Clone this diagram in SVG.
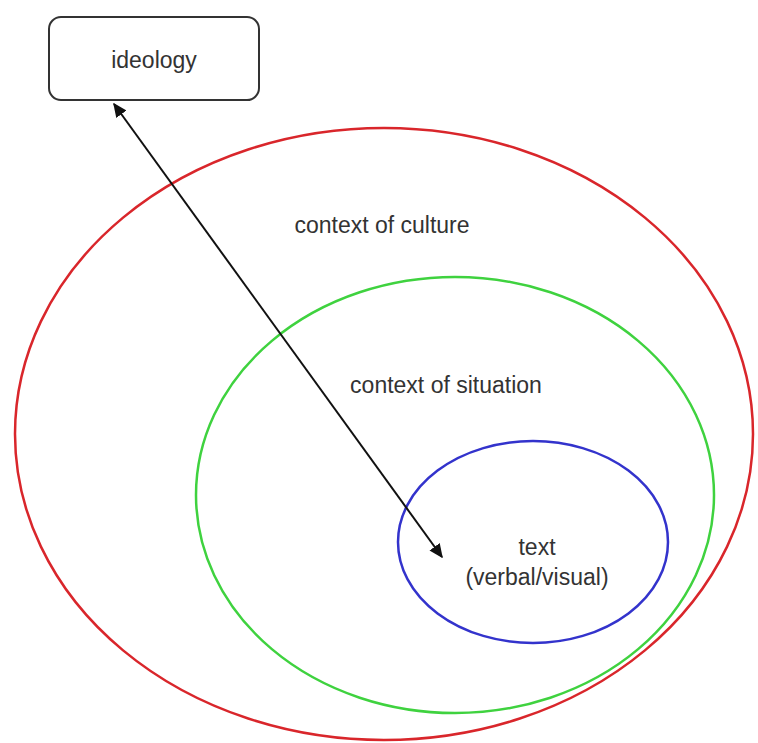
<svg xmlns="http://www.w3.org/2000/svg" width="758" height="743" viewBox="0 0 758 743">
<defs>
<style>
text{font-family:"Liberation Sans",Arial,sans-serif;font-size:23px;fill:#333;text-anchor:middle}
.ring{fill:none;stroke-width:2.5}
</style>
<marker id="ah" viewBox="0 0 10 10" refX="9" refY="5" markerWidth="7" markerHeight="7" orient="auto-start-reverse" markerUnits="strokeWidth">
<path d="M0,0.5 L10,5 L0,9.5 z" fill="#111"/>
</marker>
</defs>
<rect width="758" height="743" fill="#fff"/>
<g id="culture"><ellipse class="ring" cx="384" cy="434" rx="369" ry="306" stroke="#d9262b"/><text x="382" y="233">context of culture</text></g>
<g id="situation"><ellipse class="ring" cx="455" cy="495" rx="259" ry="218" stroke="#3fd23f"/><text x="446" y="393">context of situation</text></g>
<g id="text"><ellipse class="ring" cx="533" cy="542" rx="135" ry="101" stroke="#3333cc"/><text x="537" y="555">text</text><text x="537" y="585">(verbal/visual)</text></g>
<g id="ideology"><rect x="49" y="17" width="210" height="83" rx="12" fill="#fff" stroke="#333" stroke-width="2"/><text x="154" y="68">ideology</text></g>
<g id="connectors"><line x1="114" y1="104" x2="442" y2="557" stroke="#111" stroke-width="2" marker-start="url(#ah)" marker-end="url(#ah)"/></g>
</svg>
